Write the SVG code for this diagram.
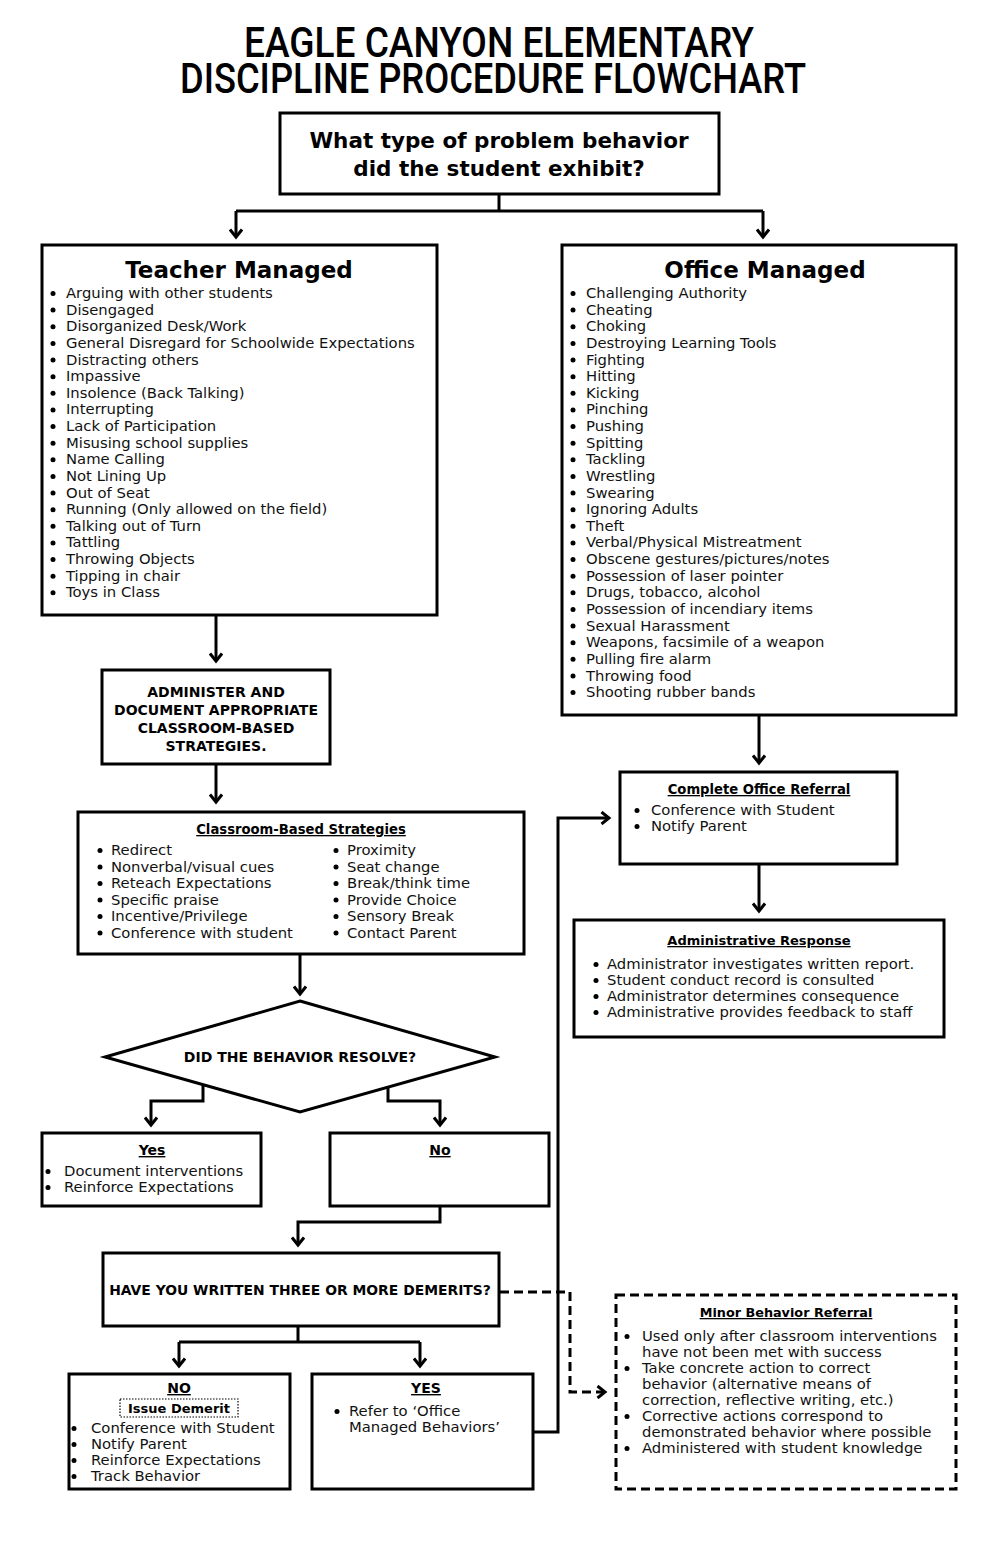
<svg xmlns="http://www.w3.org/2000/svg" width="999" height="1544" viewBox="0 0 999 1544">
<style>
.box{fill:#fff;stroke:#000;stroke-width:3}
.dbox{fill:#fff;stroke:#000;stroke-width:3;stroke-dasharray:9 5}
.ln{fill:none;stroke:#000;stroke-width:3}
.dln{fill:none;stroke:#000;stroke-width:3;stroke-dasharray:9 5}
.t{font-family:"DejaVu Sans","Liberation Sans",sans-serif;font-size:14.8px;fill:#111}
.b{font-family:"DejaVu Sans","Liberation Sans",sans-serif;font-weight:bold;fill:#000}
.h{font-size:23px;text-anchor:middle}
.s{font-size:14px}
.hd{font-size:13.2px}
.c{text-anchor:middle}
.u{text-decoration:underline}
.title{font-family:Roboto,"DejaVu Sans",sans-serif;font-weight:500;font-size:43px;text-anchor:middle;fill:#000}
.dot{fill:#000}
</style>
<defs>
<marker id="ah" viewBox="0 0 14 14" refX="11.5" refY="7" markerWidth="14" markerHeight="14" markerUnits="userSpaceOnUse" orient="auto">
<path d="M4,1 L11.5,7 L4,13" fill="none" stroke="#000" stroke-width="3"/>
</marker>
</defs>
<rect width="999" height="1544" fill="#fff"/>

<g id="title">
<text class="title" x="499" y="57" textLength="510" lengthAdjust="spacingAndGlyphs">EAGLE CANYON ELEMENTARY</text>
<text class="title" x="493" y="93" textLength="626" lengthAdjust="spacingAndGlyphs">DISCIPLINE PROCEDURE FLOWCHART</text>
</g>

<g id="connectors">
<path class="ln" d="M499,194 V211 M236,211 H763"/>
<path class="ln" d="M236,211 V237" marker-end="url(#ah)"/>
<path class="ln" d="M763,211 V237" marker-end="url(#ah)"/>
<path class="ln" d="M216,615 V661" marker-end="url(#ah)"/>
<path class="ln" d="M216,764 V802" marker-end="url(#ah)"/>
<path class="ln" d="M300,954 V994" marker-end="url(#ah)"/>
<path class="ln" d="M203,1084 V1101 H151 V1125" marker-end="url(#ah)"/>
<path class="ln" d="M388,1087 V1101 H440 V1125" marker-end="url(#ah)"/>
<path class="ln" d="M440,1206 V1222 H298 V1245" marker-end="url(#ah)"/>
<path class="ln" d="M298,1326 V1342 M179,1342 H420"/>
<path class="ln" d="M179,1342 V1366" marker-end="url(#ah)"/>
<path class="ln" d="M420,1342 V1366" marker-end="url(#ah)"/>
<path class="ln" d="M533,1432 H558 V818 H609" marker-end="url(#ah)"/>
<path class="ln" d="M759,715 V763" marker-end="url(#ah)"/>
<path class="ln" d="M759,864 V911" marker-end="url(#ah)"/>
<path class="dln" d="M500,1292 H570 V1392 H605" marker-end="url(#ah)"/>
</g>

<g id="question">
<rect class="box" x="280" y="113" width="439" height="81"/>
<text class="b c" x="499" y="148" font-size="21.5">What type of problem behavior</text>
<text class="b c" x="499" y="176" font-size="21.5">did the student exhibit?</text>
</g>

<g id="teacher-managed">
<rect class="box" x="42" y="245" width="395" height="370"/>
<text class="b h" x="239" y="278">Teacher Managed</text>
<g class="dot">
<circle cx="53" cy="293.5" r="2.5"/><circle cx="53" cy="310.1" r="2.5"/><circle cx="53" cy="326.8" r="2.5"/><circle cx="53" cy="343.4" r="2.5"/><circle cx="53" cy="360" r="2.5"/><circle cx="53" cy="376.7" r="2.5"/><circle cx="53" cy="393.3" r="2.5"/><circle cx="53" cy="409.9" r="2.5"/><circle cx="53" cy="426.5" r="2.5"/><circle cx="53" cy="443.2" r="2.5"/><circle cx="53" cy="459.8" r="2.5"/><circle cx="53" cy="476.4" r="2.5"/><circle cx="53" cy="493.1" r="2.5"/><circle cx="53" cy="509.7" r="2.5"/><circle cx="53" cy="526.3" r="2.5"/><circle cx="53" cy="542.9" r="2.5"/><circle cx="53" cy="559.6" r="2.5"/><circle cx="53" cy="576.2" r="2.5"/><circle cx="53" cy="592.8" r="2.5"/>
</g>
<text class="t" x="66" y="298">Arguing with other students</text>
<text class="t" x="66" y="314.6">Disengaged</text>
<text class="t" x="66" y="331.3">Disorganized Desk/Work</text>
<text class="t" x="66" y="347.9">General Disregard for Schoolwide Expectations</text>
<text class="t" x="66" y="364.5">Distracting others</text>
<text class="t" x="66" y="381.2">Impassive</text>
<text class="t" x="66" y="397.8">Insolence (Back Talking)</text>
<text class="t" x="66" y="414.4">Interrupting</text>
<text class="t" x="66" y="431">Lack of Participation</text>
<text class="t" x="66" y="447.7">Misusing school supplies</text>
<text class="t" x="66" y="464.3">Name Calling</text>
<text class="t" x="66" y="480.9">Not Lining Up</text>
<text class="t" x="66" y="497.6">Out of Seat</text>
<text class="t" x="66" y="514.2">Running (Only allowed on the field)</text>
<text class="t" x="66" y="530.8">Talking out of Turn</text>
<text class="t" x="66" y="547.4">Tattling</text>
<text class="t" x="66" y="564.1">Throwing Objects</text>
<text class="t" x="66" y="580.7">Tipping in chair</text>
<text class="t" x="66" y="597.3">Toys in Class</text>
</g>

<g id="office-managed">
<rect class="box" x="562" y="245" width="394" height="470"/>
<text class="b h" x="765" y="278">Office Managed</text>
<g class="dot">
<circle cx="573" cy="293.5" r="2.5"/><circle cx="573" cy="310.1" r="2.5"/><circle cx="573" cy="326.8" r="2.5"/><circle cx="573" cy="343.4" r="2.5"/><circle cx="573" cy="360" r="2.5"/><circle cx="573" cy="376.7" r="2.5"/><circle cx="573" cy="393.3" r="2.5"/><circle cx="573" cy="409.9" r="2.5"/><circle cx="573" cy="426.5" r="2.5"/><circle cx="573" cy="443.2" r="2.5"/><circle cx="573" cy="459.8" r="2.5"/><circle cx="573" cy="476.4" r="2.5"/><circle cx="573" cy="493.1" r="2.5"/><circle cx="573" cy="509.7" r="2.5"/><circle cx="573" cy="526.3" r="2.5"/><circle cx="573" cy="542.9" r="2.5"/><circle cx="573" cy="559.6" r="2.5"/><circle cx="573" cy="576.2" r="2.5"/><circle cx="573" cy="592.8" r="2.5"/><circle cx="573" cy="609.4" r="2.5"/><circle cx="573" cy="626.1" r="2.5"/><circle cx="573" cy="642.7" r="2.5"/><circle cx="573" cy="659.3" r="2.5"/><circle cx="573" cy="676" r="2.5"/><circle cx="573" cy="692.6" r="2.5"/>
</g>
<text class="t" x="586" y="298">Challenging Authority</text>
<text class="t" x="586" y="314.6">Cheating</text>
<text class="t" x="586" y="331.3">Choking</text>
<text class="t" x="586" y="347.9">Destroying Learning Tools</text>
<text class="t" x="586" y="364.5">Fighting</text>
<text class="t" x="586" y="381.2">Hitting</text>
<text class="t" x="586" y="397.8">Kicking</text>
<text class="t" x="586" y="414.4">Pinching</text>
<text class="t" x="586" y="431">Pushing</text>
<text class="t" x="586" y="447.7">Spitting</text>
<text class="t" x="586" y="464.3">Tackling</text>
<text class="t" x="586" y="480.9">Wrestling</text>
<text class="t" x="586" y="497.6">Swearing</text>
<text class="t" x="586" y="514.2">Ignoring Adults</text>
<text class="t" x="586" y="530.8">Theft</text>
<text class="t" x="586" y="547.4">Verbal/Physical Mistreatment</text>
<text class="t" x="586" y="564.1">Obscene gestures/pictures/notes</text>
<text class="t" x="586" y="580.7">Possession of laser pointer</text>
<text class="t" x="586" y="597.3">Drugs, tobacco, alcohol</text>
<text class="t" x="586" y="613.9">Possession of incendiary items</text>
<text class="t" x="586" y="630.6">Sexual Harassment</text>
<text class="t" x="586" y="647.2">Weapons, facsimile of a weapon</text>
<text class="t" x="586" y="663.8">Pulling fire alarm</text>
<text class="t" x="586" y="680.5">Throwing food</text>
<text class="t" x="586" y="697.1">Shooting rubber bands</text>
</g>

<g id="administer">
<rect class="box" x="102" y="670" width="228" height="94"/>
<text class="b s c" x="216" y="696.5">ADMINISTER AND</text>
<text class="b s c" x="216" y="714.5">DOCUMENT APPROPRIATE</text>
<text class="b s c" x="216" y="732.5">CLASSROOM-BASED</text>
<text class="b s c" x="216" y="750.5">STRATEGIES.</text>
</g>

<g id="strategies">
<rect class="box" x="78" y="812" width="446" height="142"/>
<text class="b hd c u" x="301" y="834">Classroom-Based Strategies</text>
<g class="dot">
<circle cx="100" cy="850.5" r="2.5"/><circle cx="100" cy="867" r="2.5"/><circle cx="100" cy="883.5" r="2.5"/><circle cx="100" cy="900" r="2.5"/><circle cx="100" cy="916.5" r="2.5"/><circle cx="100" cy="933" r="2.5"/>
<circle cx="336" cy="850.5" r="2.5"/><circle cx="336" cy="867" r="2.5"/><circle cx="336" cy="883.5" r="2.5"/><circle cx="336" cy="900" r="2.5"/><circle cx="336" cy="916.5" r="2.5"/><circle cx="336" cy="933" r="2.5"/>
</g>
<text class="t" x="111" y="855">Redirect</text>
<text class="t" x="111" y="871.5">Nonverbal/visual cues</text>
<text class="t" x="111" y="888">Reteach Expectations</text>
<text class="t" x="111" y="904.5">Specific praise</text>
<text class="t" x="111" y="921">Incentive/Privilege</text>
<text class="t" x="111" y="937.5">Conference with student</text>
<text class="t" x="347" y="855">Proximity</text>
<text class="t" x="347" y="871.5">Seat change</text>
<text class="t" x="347" y="888">Break/think time</text>
<text class="t" x="347" y="904.5">Provide Choice</text>
<text class="t" x="347" y="921">Sensory Break</text>
<text class="t" x="347" y="937.5">Contact Parent</text>
</g>

<g id="resolve-decision">
<polygon class="box" points="300,1001 495,1057 300,1112 105,1057"/>
<text class="b s c" x="300" y="1062">DID THE BEHAVIOR RESOLVE?</text>
</g>

<g id="yes-box">
<rect class="box" x="42" y="1133" width="219" height="73"/>
<text class="b s c u" x="152" y="1155">Yes</text>
<circle class="dot" cx="48" cy="1171.5" r="2.5"/><circle class="dot" cx="48" cy="1187.5" r="2.5"/>
<text class="t" x="64" y="1176">Document interventions</text>
<text class="t" x="64" y="1192">Reinforce Expectations</text>
</g>

<g id="no-box">
<rect class="box" x="330" y="1133" width="219" height="73"/>
<text class="b s c u" x="440" y="1155">No</text>
</g>

<g id="demerits">
<rect class="box" x="103" y="1253" width="396" height="73"/>
<text class="b c" font-size="13.9" x="300" y="1295">HAVE YOU WRITTEN THREE OR MORE DEMERITS?</text>
</g>

<g id="no-demerits">
<rect class="box" x="69" y="1374" width="221" height="115"/>
<text class="b s c u" x="179" y="1393">NO</text>
<rect x="120" y="1399" width="118" height="18" fill="none" stroke="#000" stroke-width="1.2" stroke-dasharray="1.5 1.5"/>
<text class="b c" font-size="13" x="179" y="1413">Issue Demerit</text>
<circle class="dot" cx="74" cy="1428.5" r="2.5"/><circle class="dot" cx="74" cy="1444.5" r="2.5"/><circle class="dot" cx="74" cy="1460.5" r="2.5"/><circle class="dot" cx="74" cy="1476.5" r="2.5"/>
<text class="t" x="91" y="1433">Conference with Student</text>
<text class="t" x="91" y="1449">Notify Parent</text>
<text class="t" x="91" y="1465">Reinforce Expectations</text>
<text class="t" x="91" y="1481">Track Behavior</text>
</g>

<g id="yes-demerits">
<rect class="box" x="312" y="1374" width="221" height="115"/>
<text class="b s c u" x="426" y="1393">YES</text>
<circle class="dot" cx="337" cy="1411.5" r="2.5"/>
<text class="t" x="349" y="1416">Refer to ‘Office</text>
<text class="t" x="349" y="1432">Managed Behaviors’</text>
</g>

<g id="office-referral">
<rect class="box" x="620" y="772" width="277" height="92"/>
<text class="b hd c u" x="759" y="794">Complete Office Referral</text>
<circle class="dot" cx="637" cy="810.5" r="2.5"/><circle class="dot" cx="637" cy="826.5" r="2.5"/>
<text class="t" x="651" y="815">Conference with Student</text>
<text class="t" x="651" y="831">Notify Parent</text>
</g>

<g id="administrative-response">
<rect class="box" x="574" y="920" width="370" height="117"/>
<text class="b c u" font-size="13" x="759" y="945">Administrative Response</text>
<circle class="dot" cx="596" cy="964.5" r="2.5"/><circle class="dot" cx="596" cy="980.5" r="2.5"/><circle class="dot" cx="596" cy="996.5" r="2.5"/><circle class="dot" cx="596" cy="1012.5" r="2.5"/>
<text class="t" x="607" y="969">Administrator investigates written report.</text>
<text class="t" x="607" y="985">Student conduct record is consulted</text>
<text class="t" x="607" y="1001">Administrator determines consequence</text>
<text class="t" x="607" y="1017">Administrative provides feedback to staff</text>
</g>

<g id="minor-referral">
<rect class="dbox" x="616" y="1295" width="340" height="194"/>
<text class="b c u" font-size="12.8" x="786" y="1317">Minor Behavior Referral</text>
<circle class="dot" cx="627" cy="1336.5" r="2.5"/><circle class="dot" cx="627" cy="1368.5" r="2.5"/><circle class="dot" cx="627" cy="1416.5" r="2.5"/><circle class="dot" cx="627" cy="1448.5" r="2.5"/>
<text class="t" x="642" y="1341">Used only after classroom interventions</text>
<text class="t" x="642" y="1357">have not been met with success</text>
<text class="t" x="642" y="1373">Take concrete action to correct</text>
<text class="t" x="642" y="1389">behavior (alternative means of</text>
<text class="t" x="642" y="1405">correction, reflective writing, etc.)</text>
<text class="t" x="642" y="1421">Corrective actions correspond to</text>
<text class="t" x="642" y="1437">demonstrated behavior where possible</text>
<text class="t" x="642" y="1453">Administered with student knowledge</text>
</g>
</svg>
